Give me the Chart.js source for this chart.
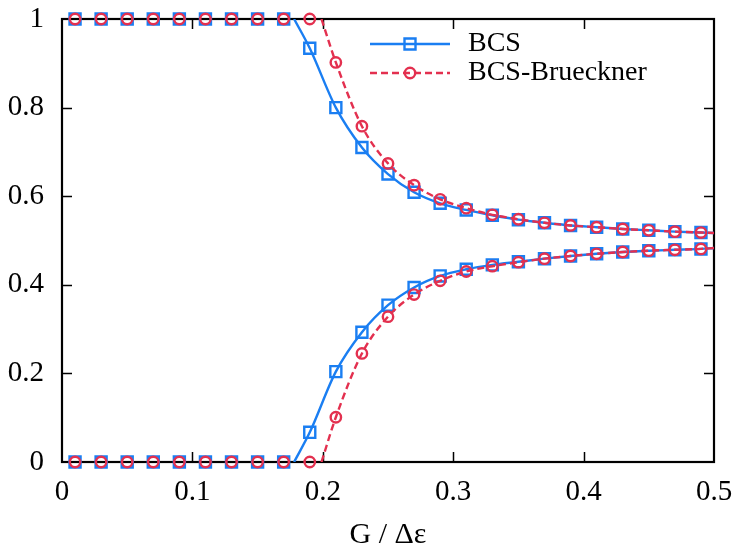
<!DOCTYPE html>
<html>
<head>
<meta charset="utf-8">
<script src="https://cdn.jsdelivr.net/npm/chart.js@4.4.1/dist/chart.umd.min.js"></script>
<style>html,body{margin:0;padding:0;background:#fff;}</style>
</head>
<body>
<canvas id="c" width="736" height="549"></canvas>
<script>
// ---- data ----
const gValues   = [0.01,0.03,0.05,0.07,0.09,0.11,0.13,0.15,0.17,0.19,0.21,0.23,0.25,0.27,0.29,0.31,0.33,0.35,0.37,0.39,0.41,0.43,0.45,0.47,0.49];
const bcsUpper  = [1,1,1,1,1,1,1,1,1,0.934,0.800,0.710,0.650,0.609,0.584,0.569,0.557,0.547,0.540,0.534,0.530,0.526,0.523,0.520,0.518];
const bcsLower  = [0,0,0,0,0,0,0,0,0,0.067,0.204,0.293,0.354,0.394,0.420,0.435,0.445,0.452,0.459,0.465,0.470,0.474,0.477,0.479,0.481];
const bruUpper  = [1,1,1,1,1,1,1,1,1,1,0.902,0.758,0.674,0.625,0.593,0.573,0.558,0.548,0.540,0.534,0.530,0.526,0.523,0.520,0.518];
const bruLower  = [0,0,0,0,0,0,0,0,0,0,0.101,0.245,0.328,0.378,0.409,0.430,0.442,0.451,0.459,0.465,0.470,0.474,0.477,0.479,0.481];
const criticalG = [0.178, 0.199];          // where each curve leaves 0 / 1 (BCS, BCS-Brueckner)
const edgeG     = 0.5;                      // curves continue to the right frame
const edgeUpper = [0.517, 0.517];
const edgeLower = [0.483, 0.483];
const seriesNames = ['BCS', 'BCS-Brueckner'];
const xTickValues = [0, 0.1, 0.2, 0.3, 0.4, 0.5];
const xTickLabels = ['0', '0.1', '0.2', '0.3', '0.4', '0.5'];
const yTickValues = [0, 0.2, 0.4, 0.6, 0.8, 1];
const yTickLabels = ['0', '0.2', '0.4', '0.6', '0.8', '1'];
const xTitle = 'G / \u0394\u03b5';

const BLUE = '#1a7ef2';
const RED = '#e3304f';
const FONT = "'Liberation Serif', 'DejaVu Serif', serif";
const DASH = [7, 4];

function pts(vals) { return gValues.map((g, i) => ({x: g, y: vals[i]})); }
function curve(vals, crit, base, edgeVal) {
  const out = [{x: crit, y: base}];
  gValues.forEach((g, i) => { if (g > crit) out.push({x: g, y: vals[i]}); });
  out.push({x: edgeG, y: edgeVal});
  return out;
}

const lineCommon = {showLine: true, pointRadius: 0, pointHoverRadius: 0, borderWidth: 2.4, cubicInterpolationMode: 'monotone', fill: false};
const markCommon = {showLine: false, borderWidth: 2.4, backgroundColor: 'rgba(0,0,0,0)', clip: false, pointHoverRadius: 0};

const datasets = [
  Object.assign({label: seriesNames[0] + ' line up', data: curve(bcsUpper, criticalG[0], 1, edgeUpper[0]), borderColor: BLUE, order: 4}, lineCommon),
  Object.assign({label: seriesNames[0] + ' line low', data: curve(bcsLower, criticalG[0], 0, edgeLower[0]), borderColor: BLUE, order: 4}, lineCommon),
  Object.assign({label: seriesNames[0] + ' pts up', data: pts(bcsUpper), borderColor: BLUE, pointStyle: 'rect', pointRadius: 7.8, order: 3}, markCommon),
  Object.assign({label: seriesNames[0] + ' pts low', data: pts(bcsLower), borderColor: BLUE, pointStyle: 'rect', pointRadius: 7.8, order: 3}, markCommon),
  Object.assign({label: seriesNames[1] + ' line up', data: curve(bruUpper, criticalG[1], 1, edgeUpper[1]), borderColor: RED, borderDash: DASH, order: 2}, lineCommon),
  Object.assign({label: seriesNames[1] + ' line low', data: curve(bruLower, criticalG[1], 0, edgeLower[1]), borderColor: RED, borderDash: DASH, order: 2}, lineCommon),
  Object.assign({label: seriesNames[1] + ' pts up', data: pts(bruUpper), borderColor: RED, pointStyle: 'circle', pointRadius: 5.2, order: 1}, markCommon),
  Object.assign({label: seriesNames[1] + ' pts low', data: pts(bruLower), borderColor: RED, pointStyle: 'circle', pointRadius: 5.2, order: 1}, markCommon)
];

const framePlugin = {
  id: 'frame',
  beforeDatasetsDraw(chart) {
    const {ctx, chartArea: a, scales} = chart;
    ctx.save();
    ctx.strokeStyle = '#000';
    ctx.lineWidth = 1.5;
    const T = 10;
    ctx.beginPath();
    xTickValues.forEach(v => {
      const px = Math.round(scales.x.getPixelForValue(v)) + 0.5;
      if (px > a.left + 2 && px < a.right - 2) {
        ctx.moveTo(px, a.bottom); ctx.lineTo(px, a.bottom - T);
        ctx.moveTo(px, a.top); ctx.lineTo(px, a.top + T);
      }
    });
    yTickValues.forEach(v => {
      const py = Math.round(scales.y.getPixelForValue(v)) + 0.5;
      if (py > a.top + 2 && py < a.bottom - 2) {
        ctx.moveTo(a.left, py); ctx.lineTo(a.left + T, py);
        ctx.moveTo(a.right, py); ctx.lineTo(a.right - T, py);
      }
    });
    ctx.stroke();
    ctx.lineWidth = 2.2;
    ctx.strokeRect(a.left, a.top, a.right - a.left, a.bottom - a.top);
    ctx.restore();
  }
};

const legendPlugin = {
  id: 'customLegend',
  afterDraw(chart) {
    const ctx = chart.ctx;
    const items = [
      {name: seriesNames[0], color: BLUE, dash: [], style: 'rect'},
      {name: seriesNames[1], color: RED, dash: DASH, style: 'circle'}
    ];
    const x0 = 370, x1 = 450, xm = 410, tx = 468, y0 = 44, dy = 29;
    ctx.save();
    items.forEach((it, i) => {
      const y = y0 + i * dy;
      ctx.strokeStyle = it.color;
      ctx.lineWidth = 2.4;
      ctx.setLineDash(it.dash);
      ctx.beginPath(); ctx.moveTo(x0, y); ctx.lineTo(x1, y); ctx.stroke();
      ctx.setLineDash([]);
      ctx.beginPath();
      if (it.style === 'rect') { ctx.rect(xm - 5.5, y - 5.5, 11, 11); }
      else { ctx.arc(xm, y, 5.2, 0, Math.PI * 2); }
      ctx.stroke();
      ctx.fillStyle = '#000';
      ctx.font = '28px ' + FONT;
      ctx.textBaseline = 'middle';
      ctx.textAlign = 'left';
      ctx.fillText(it.name, tx, y);
    });
    ctx.restore();
  }
};

Chart.defaults.font.family = FONT;
Chart.defaults.font.size = 29;
Chart.defaults.color = '#000';

new Chart(document.getElementById('c'), {
  type: 'scatter',
  data: {datasets},
  options: {
    responsive: false,
    devicePixelRatio: 1,
    animation: false,
    events: [],
    layout: {padding: {left: 0, right: 22, top: 19, bottom: 0}},
    plugins: {legend: {display: false}, tooltip: {enabled: false}},
    scales: {
      x: {
        type: 'linear', min: 0, max: 0.5,
        grid: {display: false, drawTicks: false},
        border: {display: false},
        afterBuildTicks: s => { s.ticks = xTickValues.map(v => ({value: v})); },
        afterFit: s => { s.height = 87; s.paddingLeft = 0; s.paddingRight = 0; s.paddingTop = 0; s.paddingBottom = 0; },
        ticks: {padding: 13, maxRotation: 0, autoSkip: false,
          callback: (v) => { const i = xTickValues.findIndex(t => Math.abs(t - v) < 1e-9); return i >= 0 ? xTickLabels[i] : ''; }},
        title: {display: true, text: xTitle, font: {size: 30}, padding: {top: 0, bottom: -4}}
      },
      y: {
        type: 'linear', min: 0, max: 1,
        grid: {display: false, drawTicks: false},
        border: {display: false},
        afterBuildTicks: s => { s.ticks = yTickValues.map(v => ({value: v})); },
        afterFit: s => { s.width = 62; s.paddingLeft = 0; s.paddingRight = 0; s.paddingTop = 0; s.paddingBottom = 0; },
        ticks: {padding: 18, autoSkip: false,
          callback: (v) => { const i = yTickValues.findIndex(t => Math.abs(t - v) < 1e-9); return i >= 0 ? yTickLabels[i] : ''; }}
      }
    }
  },
  plugins: [framePlugin, legendPlugin]
});
</script>
</body>
</html>
